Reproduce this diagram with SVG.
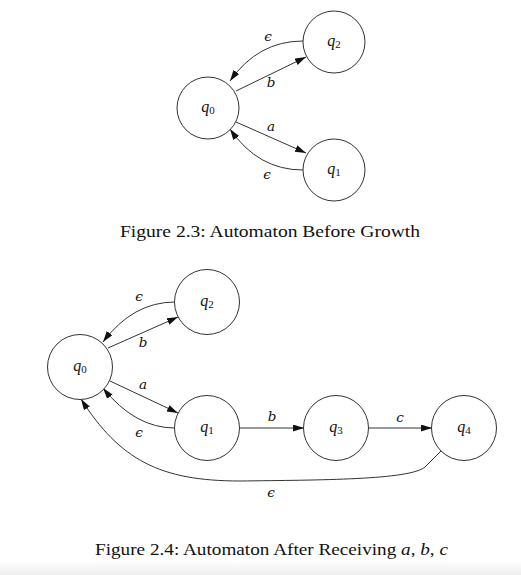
<svg xmlns="http://www.w3.org/2000/svg" width="521" height="575" viewBox="0 0 521 575">
<defs>
<marker id="arr" markerUnits="userSpaceOnUse" markerWidth="12" markerHeight="8" refX="11" refY="3.5" orient="auto">
<path d="M0,0 L11,3.5 L0,7 z" fill="#111"/>
</marker>
<linearGradient id="bg" x1="0" y1="0" x2="0" y2="1">
<stop offset="0" stop-color="#ffffff"/>
<stop offset="1" stop-color="#eeeeee"/>
</linearGradient>
</defs>
<style>
.st{fill:#fff;stroke:#333;stroke-width:1}
.ql{font-family:"Liberation Serif","DejaVu Serif",serif;font-size:16px;font-style:italic;fill:#111;text-anchor:middle}
.sub{font-style:normal;font-size:11px}
.e{fill:none;stroke:#333;stroke-width:1;marker-end:url(#arr)}
.el{font-family:"DejaVu Serif","Liberation Serif",serif;font-size:13.5px;font-style:italic;fill:#111;text-anchor:middle}
.cap{font-family:"Liberation Serif","DejaVu Serif",serif;font-size:17px;fill:#111}
</style>
<rect x="0" y="0" width="521" height="575" fill="#fff"/>
<rect x="0" y="560" width="521" height="15" fill="url(#bg)"/>

<g id="connectors">
<path class="e" d="M236,91 L306,57"/>
<path class="e" d="M303,41 Q258,41 230,81"/>
<path class="e" d="M236,122 L306,153"/>
<path class="e" d="M303,170 Q258,170 230,129"/>
<path class="e" d="M108,348 L178,317"/>
<path class="e" d="M175,302 Q133,302 103,342"/>
<path class="e" d="M110,381 L178,413"/>
<path class="e" d="M175,428 Q135,428 103,388"/>
<path class="e" d="M240,428 L304,428"/>
<path class="e" d="M368,428 L432,428"/>
<path class="e" d="M441,451 L425,467 C410,480 320,480 240,481 C160,481 120,460 81,399"/>
</g>

<g id="edge-labels">
<text class="el" x="268" y="41">ϵ</text>
<text class="el" x="271" y="87">b</text>
<text class="el" x="271" y="131">a</text>
<text class="el" x="267" y="179">ϵ</text>
<text class="el" x="139" y="301">ϵ</text>
<text class="el" x="143" y="347">b</text>
<text class="el" x="143" y="389">a</text>
<text class="el" x="139" y="437">ϵ</text>
<text class="el" x="272" y="421">b</text>
<text class="el" x="400" y="422">c</text>
<text class="el" x="271" y="497">ϵ</text>
</g>

<g id="top-q0"><circle class="st" cx="208" cy="108" r="31"/><text class="ql" x="208" y="112">q<tspan class="sub" dy="2">0</tspan></text></g>
<g id="top-q2"><circle class="st" cx="334" cy="42" r="31"/><text class="ql" x="334" y="46">q<tspan class="sub" dy="2">2</tspan></text></g>
<g id="top-q1"><circle class="st" cx="334" cy="170" r="31"/><text class="ql" x="334" y="174">q<tspan class="sub" dy="2">1</tspan></text></g>

<g id="bot-q0"><circle class="st" cx="80" cy="367" r="32.5"/><text class="ql" x="80" y="371">q<tspan class="sub" dy="2">0</tspan></text></g>
<g id="bot-q2"><circle class="st" cx="207" cy="302" r="32.5"/><text class="ql" x="207" y="306">q<tspan class="sub" dy="2">2</tspan></text></g>
<g id="bot-q1"><circle class="st" cx="207" cy="428" r="32.5"/><text class="ql" x="207" y="432">q<tspan class="sub" dy="2">1</tspan></text></g>
<g id="bot-q3"><circle class="st" cx="336" cy="428" r="32.5"/><text class="ql" x="336" y="432">q<tspan class="sub" dy="2">3</tspan></text></g>
<g id="bot-q4"><circle class="st" cx="464" cy="428" r="32.5"/><text class="ql" x="464" y="432">q<tspan class="sub" dy="2">4</tspan></text></g>

<g id="captions">
<text class="cap" x="120" y="237" textLength="300" lengthAdjust="spacingAndGlyphs">Figure 2.3:  Automaton Before Growth</text>
<text class="cap" x="95" y="555" textLength="353" lengthAdjust="spacingAndGlyphs">Figure 2.4:  Automaton After Receiving <tspan font-style="italic">a</tspan>, <tspan font-style="italic">b</tspan>, <tspan font-style="italic">c</tspan></text>
</g>
</svg>
